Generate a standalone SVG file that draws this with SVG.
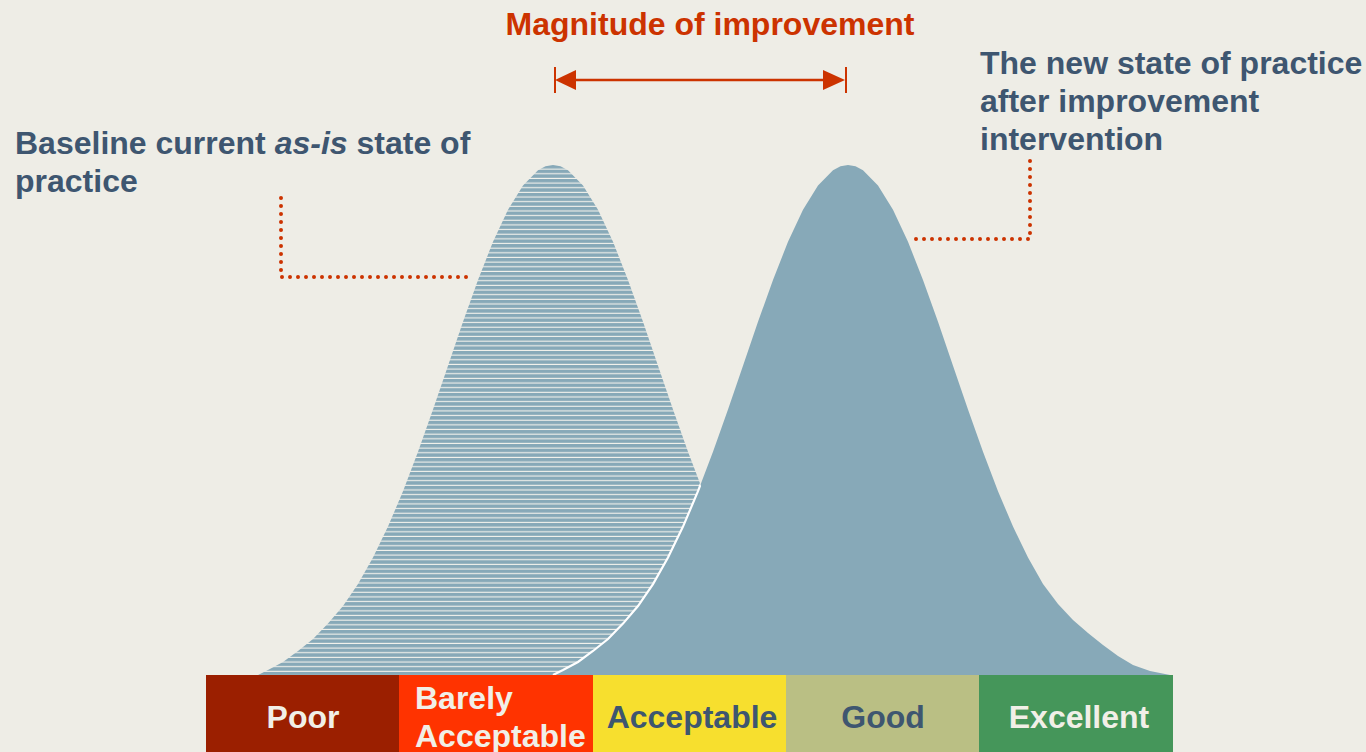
<svg xmlns="http://www.w3.org/2000/svg" width="1366" height="752" viewBox="0 0 1366 752">
<style>
.t{font-family:"Liberation Sans",Arial,sans-serif;font-weight:bold;font-size:32px}
.dk{fill:#3E5670}
.lt{fill:#F1EFE7}
.rd{fill:#CC3300}
.dot{fill:none;stroke:#CC3300;stroke-width:4;stroke-linecap:round;stroke-dasharray:0 8}
</style>
<defs>
<pattern id="stripes" patternUnits="userSpaceOnUse" x="0" y="165" width="20" height="4.65">
<rect width="20" height="4.65" fill="#F3F2EC"/>
<rect width="20" height="3.55" fill="#87A9B8"/>
</pattern>
<path id="leftCurve" d="M258 675 L268 670 L283 662 L298 651 L313 639 L328 623.6 L343 606 L358 584.1 L373 557.6 L388 526.6 L403 491.2 L418 451.8 L433 409.6 L448 365.7 L463 321.8 L478 279.9 L493 241.8 L508 209.8 L523 185.4 L538 170.2 L545.5 166.3 L553 165 L560.5 166.3 L568 170.2 L583 185.4 L598 209.8 L613 241.8 L628 279.9 L643 321.8 L658 365.7 L673 409.6 L688 451.8 L703 491.2 L718 526.6 L733 557.6 L748 584.1 L763 606 L778 623.6 L793 639 L808 651 L823 662 L838 670 L848 675 Z"/>
<path id="rightCurve" d="M553 675 L563 670 L578 662 L593 651 L608 639 L623 623.6 L638 606 L653 584.1 L668 557.6 L683 526.6 L698 491.2 L713 451.8 L728 409.6 L743 365.7 L758 321.8 L773 279.9 L788 241.8 L803 209.8 L818 185.4 L833 170.2 L840.5 166.3 L848 165 L855.5 166.3 L863 170.2 L878 185.4 L893 209.8 L908 241.8 L923 279.9 L938 321.8 L953 365.7 L968 409.6 L983 451.8 L998 491.2 L1013 526.6 L1028 557.6 L1043 584.1 L1058 604 L1073 620 L1088 633 L1103 645 L1118 656 L1133 665 L1150 671 L1170 675 Z"/>
<clipPath id="leftClip"><use href="#leftCurve"/></clipPath>
</defs>
<rect width="1366" height="752" fill="#EEEDE6"/>

<g id="baseline-curve">
<use href="#leftCurve" fill="url(#stripes)"/>
</g>
<g id="new-curve">
<use href="#rightCurve" fill="#87A9B8"/>
<path d="M553 675 L563 670 L578 662 L593 651 L608 639 L623 623.6 L638 606 L653 584.1 L668 557.6 L683 526.6 L698 491.2 L713 451.8 L728 409.6" fill="none" stroke="#FFFFFF" stroke-width="2.2" clip-path="url(#leftClip)"/>
</g>

<g id="connectors">
<path class="dot" d="M281 198 V277 H473"/>
<path class="dot" d="M1030 161 V239 H911"/>
<line x1="560" y1="80" x2="840" y2="80" stroke="#CC3300" stroke-width="2.5"/>
<line x1="555" y1="67" x2="555" y2="93" stroke="#CC3300" stroke-width="2"/>
<line x1="846" y1="67" x2="846" y2="93" stroke="#CC3300" stroke-width="2"/>
<polygon points="555,80 576,70 576,90" fill="#CC3300"/>
<polygon points="845,80 823,70 823,90" fill="#CC3300"/>
</g>

<g id="magnitude-label">
<text class="t rd" x="710" y="35" text-anchor="middle">Magnitude of improvement</text>
</g>
<g id="baseline-label">
<text class="t dk" x="15" y="154">Baseline current <tspan font-style="italic">as-is</tspan> state of</text>
<text class="t dk" x="15" y="192">practice</text>
</g>
<g id="new-label">
<text class="t dk" x="980" y="74">The new state of practice</text>
<text class="t dk" x="980" y="112">after improvement</text>
<text class="t dk" x="980" y="150">intervention</text>
</g>

<g id="bar-poor">
<rect x="206" y="675" width="193.5" height="77" fill="#9B1F00"/>
<text class="t lt" x="303" y="728" text-anchor="middle">Poor</text>
</g>
<g id="bar-barely">
<rect x="399" y="675" width="194.5" height="77" fill="#FF3300"/>
<text class="t lt" x="415" y="709">Barely</text>
<text class="t lt" x="415" y="747">Acceptable</text>
</g>
<g id="bar-acceptable">
<rect x="593" y="675" width="193.5" height="77" fill="#F7DF2E"/>
<text class="t dk" x="692" y="728" text-anchor="middle">Acceptable</text>
</g>
<g id="bar-good">
<rect x="786" y="675" width="193.5" height="77" fill="#BABF84"/>
<text class="t dk" x="883" y="728" text-anchor="middle">Good</text>
</g>
<g id="bar-excellent">
<rect x="979" y="675" width="194" height="77" fill="#45965A"/>
<text class="t lt" x="1079" y="728" text-anchor="middle">Excellent</text>
</g>
</svg>
